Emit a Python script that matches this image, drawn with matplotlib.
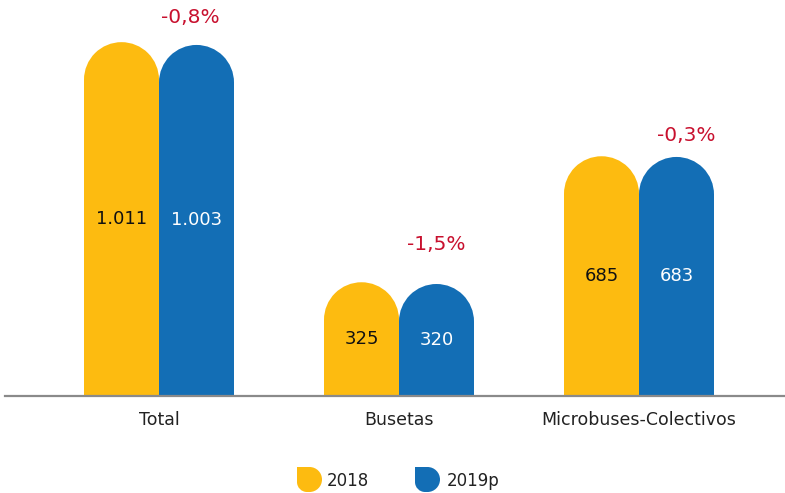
import matplotlib
matplotlib.use('Agg')
import matplotlib.pyplot as plt
from matplotlib.patches import Rectangle, Ellipse, PathPatch
from matplotlib.path import Path
import numpy as np

categories = ['Total', 'Busetas', 'Microbuses-Colectivos']
vals_2018 = [1011, 325, 685]
vals_2019 = [1003, 320, 683]
labels_2018 = ['1.011', '325', '685']
labels_2019 = ['1.003', '320', '683']
changes = ['-0,8%', '-1,5%', '-0,3%']
series = ['2018', '2019p']

YELLOW = '#FDBB10'
BLUE = '#136EB5'
RED = '#C8102E'
plt.rcParams['font.family'] = ['DejaVu Sans']

W, H = 785, 493
fig = plt.figure(figsize=(W / 100, H / 100), dpi=100)
base = 396
px_per_unit = 0.35
ax = fig.add_axes([5 / W, (H - base) / H, 780 / W, base / H])
ax.set_xlim(-154 / 240, 626 / 240)
ax.set_ylim(0, base / px_per_unit)

bw = 75 / 240            # bar width in group units
ry = 37.5 / px_per_unit  # cap radius in value units

def rounded_bar(xc, v, color):
    ax.add_patch(Rectangle((xc - bw / 2, 0), bw, v - ry, color=color, lw=0))
    ax.add_patch(Ellipse((xc, v - ry), bw, 2 * ry, color=color, lw=0))

x = np.arange(len(categories))
pct_offsets = [(-4.7, 15.5), (0, 24.5), (7, 11.5)]
for i in x:
    rounded_bar(i - bw / 2, vals_2018[i], YELLOW)
    rounded_bar(i + bw / 2, vals_2019[i], BLUE)
    ax.text(i - bw / 2, vals_2018[i] / 2, labels_2018[i], ha='center', va='center',
            fontsize=13, color='#111111')
    ax.text(i + bw / 2, vals_2019[i] / 2, labels_2019[i], ha='center', va='center',
            fontsize=13, color='white')
    ax.annotate(changes[i], (i + bw / 2, vals_2019[i]), xytext=pct_offsets[i],
                textcoords='offset points', ha='center', va='baseline',
                fontsize=14.5, color=RED, annotation_clip=False)

for s in ['top', 'right', 'left']:
    ax.spines[s].set_visible(False)
ax.spines['bottom'].set_color('#8A8A8A')
ax.spines['bottom'].set_linewidth(1.6)
ax.set_yticks([])
ax.set_xticks(x)
ax.set_xticklabels(categories, fontsize=12.5, color='#222222')
ax.tick_params(axis='x', length=0, pad=11)

# legend icons (rounded shape, square top-left corner)
def icon(x0, y0, w, h, color):
    k = 0.5523
    r = w / 2
    rb = r * 0.8
    verts = [(x0, y0 + h), (x0 + w - r, y0 + h),
             (x0 + w - r + k * r, y0 + h), (x0 + w, y0 + h - r + k * r), (x0 + w, y0 + h - r),
             (x0 + w, y0 + r),
             (x0 + w, y0 + r - k * r), (x0 + w - r + k * r, y0), (x0 + w - r, y0),
             (x0 + rb, y0),
             (x0 + rb - k * rb, y0), (x0, y0 + rb - k * rb), (x0, y0 + rb),
             (x0, y0 + h)]
    codes = [Path.MOVETO, Path.LINETO, Path.CURVE4, Path.CURVE4, Path.CURVE4, Path.LINETO,
             Path.CURVE4, Path.CURVE4, Path.CURVE4, Path.LINETO,
             Path.CURVE4, Path.CURVE4, Path.CURVE4, Path.CLOSEPOLY]
    fig.patches.append(PathPatch(Path(verts, codes), transform=None, color=color, lw=0))

leg_items = [(297, YELLOW, 327), (415, BLUE, 447)]
for (ix, col, tx), name in zip(leg_items, series):
    icon(ix, H - 492, 25, 25, col)
    fig.text(tx / W, (H - 481) / H, name, ha='left', va='center', fontsize=12, color='#222222')

fig.savefig('out.png', dpi=100)
